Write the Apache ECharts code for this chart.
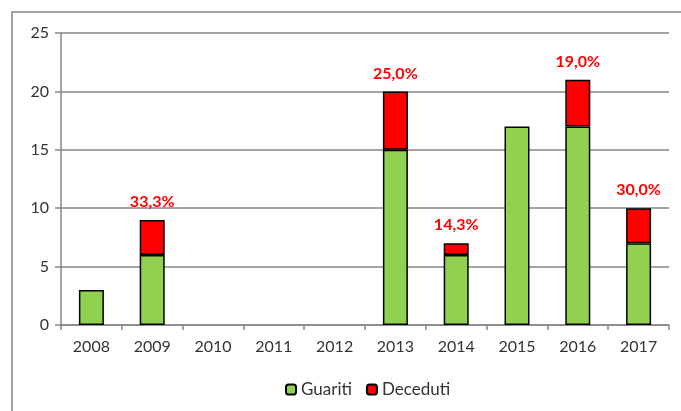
<!DOCTYPE html>
<html>
<head>
<meta charset="utf-8">
<script src="https://cdn.jsdelivr.net/npm/echarts@6/dist/echarts.min.js"></script>
<style>
  html, body { margin: 0; padding: 0; background: #fff; }
  #chart { width: 681px; height: 411px; }
</style>
</head>
<body>
<div id="chart"></div>
<script>
const years = ["2008", "2009", "2010", "2011", "2012", "2013", "2014", "2015", "2016", "2017"];
const guariti = [3, 6, 0, 0, 0, 15, 6, 17, 17, 7];
const deceduti = [0, 3, 0, 0, 0, 5, 1, 0, 4, 3];
const percentLabels = ["", "33,3%", "", "", "", "25,0%", "14,3%", "", "19,0%", "30,0%"];

const axisGrey = "#868686";
const font = "Lato, 'Open Sans', sans-serif";

// empty years get no bar at all (no border line on the axis)
const hideZero = (arr) => arr.map((v) => (v === 0 ? "-" : v));

const chart = echarts.init(document.getElementById("chart"));
const options = {
  animation: false,
  textStyle: { fontFamily: font },
  graphic: [
    {
      type: "rect",
      shape: { x: 12, y: 12, width: 700, height: 420 },
      style: { fill: "none", stroke: axisGrey, lineWidth: 1.5 },
    },
  ],
  grid: { left: 61, right: 12, top: 33, bottom: 86 },
  legend: {
    data: ["Guariti", "Deceduti"],
    bottom: 8,
    left: 280,
    itemWidth: 10,
    itemHeight: 10,
    itemGap: 14,
    textStyle: { fontSize: 17, color: "#333", fontFamily: font },
  },
  xAxis: {
    type: "category",
    data: years,
    axisLine: { lineStyle: { color: axisGrey, width: 1.5 } },
    axisTick: { show: true, length: 5, lineStyle: { color: axisGrey, width: 1.5 } },
    axisLabel: { fontSize: 16, color: "#333", margin: 14 },
  },
  yAxis: {
    type: "value",
    min: 0,
    max: 25,
    interval: 5,
    axisLine: { show: true, lineStyle: { color: axisGrey, width: 1.5 } },
    axisTick: { show: true, length: 6, lineStyle: { color: axisGrey, width: 1.5 } },
    axisLabel: { fontSize: 16, color: "#333", margin: 12 },
    splitLine: { lineStyle: { color: axisGrey, width: 1.5 } },
  },
  series: [
    {
      name: "Guariti",
      type: "bar",
      stack: "total",
      barWidth: 25,
      data: hideZero(guariti),
      itemStyle: { color: "#92d050", borderColor: "#000", borderWidth: 1.5 },
    },
    {
      name: "Deceduti",
      type: "bar",
      stack: "total",
      barWidth: 25,
      data: hideZero(deceduti),
      itemStyle: { color: "#ff0000", borderColor: "#000", borderWidth: 1.5 },
      label: {
        show: true,
        position: "top",
        distance: 10,
        color: "#ff0000",
        fontWeight: "bold",
        fontSize: 16,
        fontFamily: font,
        formatter: (p) => percentLabels[p.dataIndex],
      },
    },
  ],
};
chart.setOption(options);
</script>
</body>
</html>
